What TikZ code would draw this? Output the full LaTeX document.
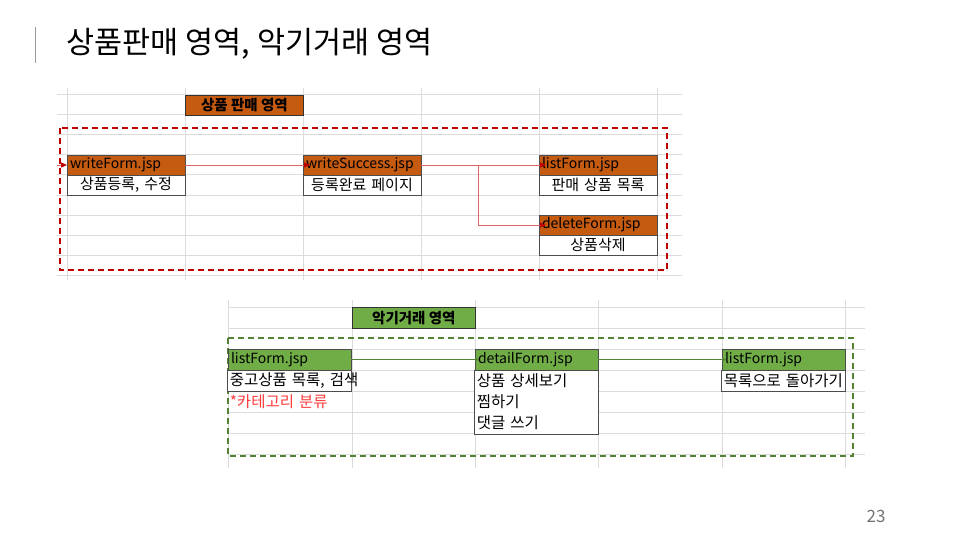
\documentclass[tikz,border=0pt]{standalone}
\usepackage{fontspec}
\setmainfont{Noto Sans CJK KR}
\usepackage{tikz}
\usetikzlibrary{arrows.meta}
\usetikzlibrary{positioning}

\definecolor{saleOrange}{HTML}{C55A11}
\definecolor{saleRed}{HTML}{C00000}
\definecolor{saleArrow}{HTML}{E06666}
\definecolor{tradeGreen}{HTML}{70AD47}
\definecolor{tradeDark}{HTML}{548235}
\definecolor{categoryRed}{HTML}{FF3B3B}
\definecolor{gridGray}{HTML}{DCDCDC}

\begin{document}
\begin{tikzpicture}
  [
    x = 1pt, y = -1pt,
    node distance = 0pt and 0pt,
    cell/.style = {draw = black!70, line width = 0.8pt, outer sep = 0pt,
                   inner xsep = 3pt, inner ysep = 0pt, minimum height = 20pt,
                   font = \fontsize{14}{20}\selectfont},
    sale/.style = {cell, fill = saleOrange, text width = 112pt, align = left},
    saleinfo/.style = {cell, fill = white, text width = 112pt, align = center,
                       font = \fontsize{15}{20}\selectfont},
    trade/.style = {cell, fill = tradeGreen, text width = 117pt,
                    minimum height = 21pt, align = left},
    tradeinfo/.style = {cell, fill = white, inner xsep = 2pt, text width = 119.5pt,
                        minimum height = 21pt, align = left,
                        font = \fontsize{15.5}{21}\selectfont},
    area/.style = {draw = black!80, line width = 0.8pt, inner sep = 0pt,
                   minimum height = 20pt, font = \bfseries\fontsize{14.5}{16}\selectfont},
    gridline/.style = {draw = gridGray, line width = 1pt},
    zone/.style = {line width = 1.5pt, dash pattern = on 6pt off 4pt},
    saleline/.style = {draw = saleArrow, line width = 0.9pt,
                       -{Triangle[length = 6pt, width = 5pt, color = saleRed]}, shorten > = -7pt},
    tradeline/.style = {draw = tradeDark, line width = 0.9pt,
                        -{Triangle[length = 4pt, width = 4pt]}, shorten > = -4pt},
  ]

  \useasboundingbox (0,0) rectangle (960,540);

  \draw[draw = black!40, line width = 1pt] (35,27) -- (35,63);
  \node[anchor = west, font = \fontsize{30.5}{34}\selectfont] (slideTitle) at (63,44)
    {상품판매 영역, 악기거래 영역};
  \node[text = black!55, font = \fontsize{17}{20}\selectfont] (pageNo) at (876,516) {23};

  \foreach \y in {95,115,...,275}
    \draw[gridline] (57,\y) -- (682,\y);
  \foreach \x in {67,185,303,421,539,657}
    \draw[gridline] (\x,88) -- (\x,280);

  \foreach \y in {307,328,...,454}
    \draw[gridline] (228,\y) -- (865,\y);
  \foreach \x in {228,352,475,598,722,845}
    \draw[gridline] (\x,300) -- (\x,468);

  \node[area, fill = saleOrange, minimum width = 118pt, anchor = north west] (saleTitle) at (185,95) {상품 판매 영역};
  \draw[zone, saleRed] (60,128) rectangle (667,270);

  \node[sale, anchor = north west] (writeForm) at (67,155) {writeForm.jsp};
  \node[saleinfo] [below = of writeForm] (writeFormInfo) {상품등록, 수정};
  \node[sale, anchor = north west] (writeSuccess) at (303,155) {writeSuccess.jsp};
  \node[saleinfo] [below = of writeSuccess] (writeSuccessInfo) {등록완료 페이지};
  \node[sale, anchor = north west] (listForm) at (539,155) {listForm.jsp};
  \node[saleinfo] [below = of listForm] (listFormInfo) {판매 상품 목록};
  \node[sale, anchor = north west] (deleteForm) at (539,215) {deleteForm.jsp};
  \node[saleinfo] [below = of deleteForm] (deleteFormInfo) {상품삭제};

  \coordinate (saleEntry) at (57,165);
  \coordinate (saleSplit) at (478,165);
  \draw[saleline, shorten > = 0pt] (saleEntry) -- (writeForm.west);
  \draw[saleline] (writeForm.east) -- (writeSuccess.west);
  \draw[saleline] (writeSuccess.east) -- (listForm.west);
  \draw[saleline] (saleSplit) |- (deleteForm.west);

  \node[area, fill = tradeGreen, minimum width = 123pt, minimum height = 21pt, anchor = north west] (tradeTitle) at (352,307) {악기거래 영역};
  \draw[zone, tradeDark] (228,338) rectangle (853,456);

  \node[trade, anchor = north west] (tradeList) at (228,349) {listForm.jsp};
  \node[tradeinfo] [below = of tradeList] (tradeListInfo) {\mbox{중고상품 목록, 검색}};
  \node[tradeinfo, draw = none, fill = none, text = categoryRed] [below = of tradeListInfo] (tradeCategory) {*카테고리 분류};
  \node[trade, anchor = north west] (detailForm) at (475,349) {detailForm.jsp};
  \node[tradeinfo, minimum height = 64pt] [below = of detailForm] (detailFormInfo) {상품 상세보기\\찜하기\\댓글 쓰기};
  \node[trade, anchor = north west] (backList) at (722,349) {listForm.jsp};
  \node[tradeinfo] [below = of backList] (backListInfo) {\mbox{목록으로 돌아가기}};

  \draw[tradeline] (tradeList.east) -- (detailForm.west);
  \draw[tradeline] (detailForm.east) -- (backList.west);

\end{tikzpicture}
\end{document}
